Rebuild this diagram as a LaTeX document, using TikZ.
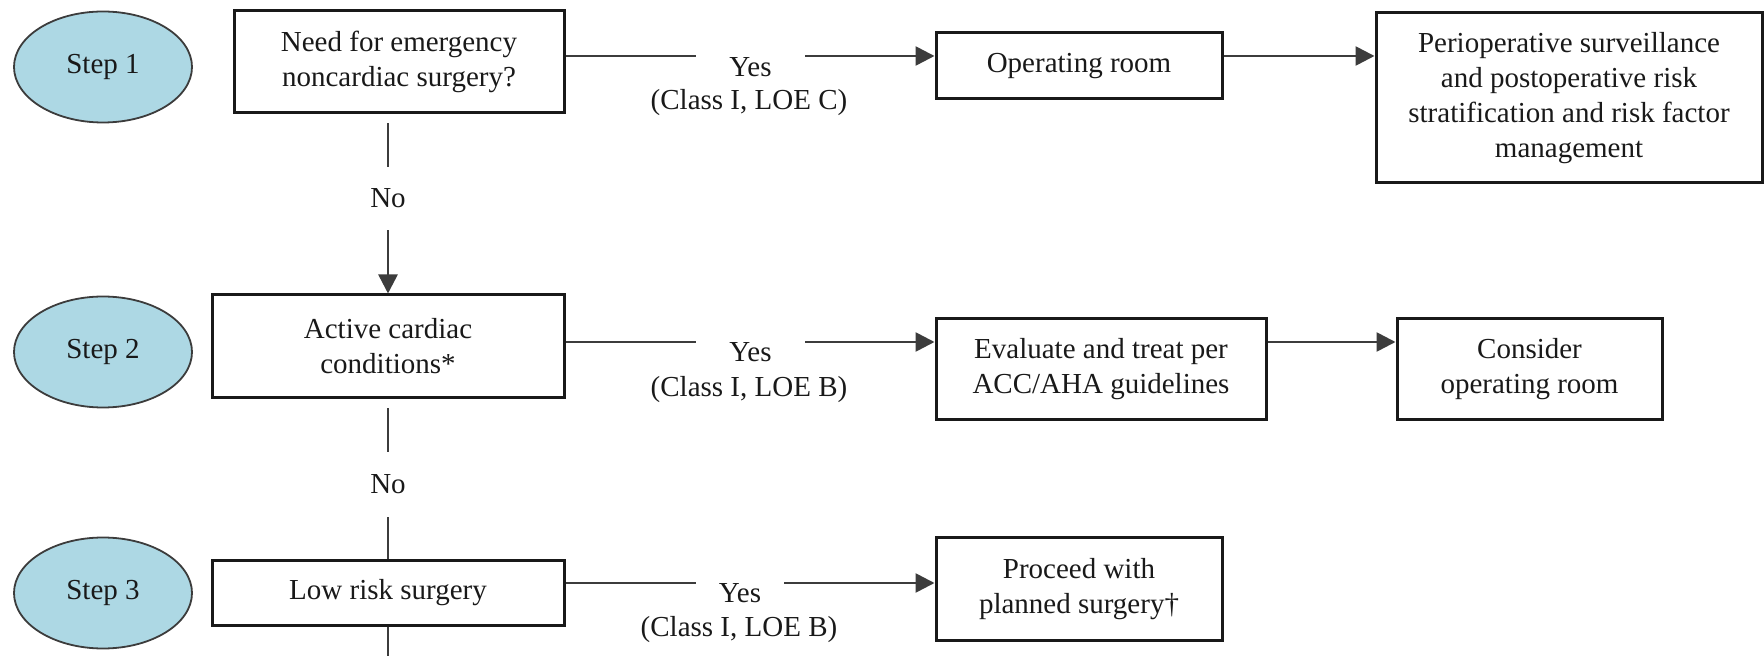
\documentclass[tikz,border=0pt]{standalone}
\usepackage{fontspec}
\setmainfont{Liberation Serif}
\usetikzlibrary{shapes.geometric,arrows.meta}
\definecolor{stepblue}{RGB}{173,216,228}
\definecolor{ink}{RGB}{25,25,25}
\definecolor{wire}{RGB}{60,60,60}
\tikzset{
  x=0.5pt, y=-0.5pt,
  every node/.style={font=\fontsize{14.5}{17.5}\selectfont, text=ink},
  stepnode/.style={ellipse, draw=wire, line width=0.9pt, fill=stepblue,
    minimum width=89pt, minimum height=55.5pt, inner sep=0pt},
  box/.style={rectangle, draw=ink, line width=1.5pt, align=center, inner sep=2pt},
  lbl/.style={inner sep=0pt, align=center},
  conn/.style={draw=wire, line width=1.3pt},
  arr/.style={conn, -{Triangle[length=9.5pt,width=9.5pt]}},
}
\begin{document}
\begin{tikzpicture}
\useasboundingbox (0,0) rectangle (1764,656);

% step markers
\node[stepnode] (s1) at (103,67) {Step 1};
\node[stepnode] (s2) at (103,352) {Step 2};
\node[stepnode] (s3) at (103,593) {Step 3};

% decision boxes
\node[box, minimum width=165pt, minimum height=51pt] (b1) at (399,62)
  {Need for emergency\\noncardiac surgery?};
\node[box, minimum width=176pt, minimum height=51.5pt] (b2) at (388,346.5)
  {Active cardiac\\conditions*};
\node[box, minimum width=176pt, minimum height=32.5pt] (b3) at (388,592.5)
  {Low risk surgery};

% outcome boxes
\node[box, minimum width=143pt, minimum height=33pt] (or) at (1079,66)
  {Operating room};
\node[box, minimum width=193pt, minimum height=85pt] (peri) at (1569,98)
  {Perioperative surveillance\\and postoperative risk\\stratification and risk factor\\management};
\node[box, minimum width=165pt, minimum height=50.5pt] (ev) at (1101,369.5)
  {Evaluate and treat per\\ACC/AHA guidelines};
\node[box, minimum width=132.5pt, minimum height=50.5pt] (con) at (1529.5,369.5)
  {Consider\\operating room};
\node[box, minimum width=143pt, minimum height=51pt] (pro) at (1079,589)
  {Proceed with\\planned surgery\textdagger};

% row heights of the horizontal connectors
\coordinate (r1) at (0,56);
\coordinate (r2) at (0,342);
\coordinate (r3) at (0,583);
\coordinate (bottom) at (0,660);

% "Yes" labels
\node[lbl, minimum width=54.5pt] (yes1) at (750.5,67) {Yes};
\node[lbl] (cls1) at (749,103) {(Class I, LOE C)};
\node[lbl, minimum width=54.5pt] (yes2) at (750.5,352) {Yes};
\node[lbl] (cls2) at (749,390) {(Class I, LOE B)};
\node[lbl, minimum width=44pt] (yes3) at (740,593) {Yes};
\node[lbl] (cls3) at (739,630) {(Class I, LOE B)};

% "No" labels
\node[lbl, minimum height=31.5pt] (no1) at (388,198.5) {No};
\node[lbl, minimum height=32.5pt] (no2) at (388,484.5) {No};

% horizontal connectors
\draw[conn] (b1.east |- r1) -- (yes1.west |- r1);
\draw[arr]  (yes1.east |- r1) -- (or.west |- r1);
\draw[arr]  (or.east |- r1) -- (peri.west |- r1);

\draw[conn] (b2.east |- r2) -- (yes2.west |- r2);
\draw[arr]  (yes2.east |- r2) -- (ev.west |- r2);
\draw[arr]  (ev.east |- r2) -- (con.west |- r2);

\draw[conn] (b3.east |- r3) -- (yes3.west |- r3);
\draw[arr]  (yes3.east |- r3) -- (pro.west |- r3);

% vertical connectors
\draw[conn, shorten <=4.5pt] (no1.north |- b1.south) -- (no1.north);
\draw[arr] (no1.south) -- (no1.south |- b2.north);
\draw[conn, shorten <=4.5pt] (no2.north |- b2.south) -- (no2.north);
\draw[conn] (no2.south) -- (no2.south |- b3.north);
\draw[conn] (no2.south |- b3.south) -- (no2.south |- bottom);
\end{tikzpicture}
\end{document}
